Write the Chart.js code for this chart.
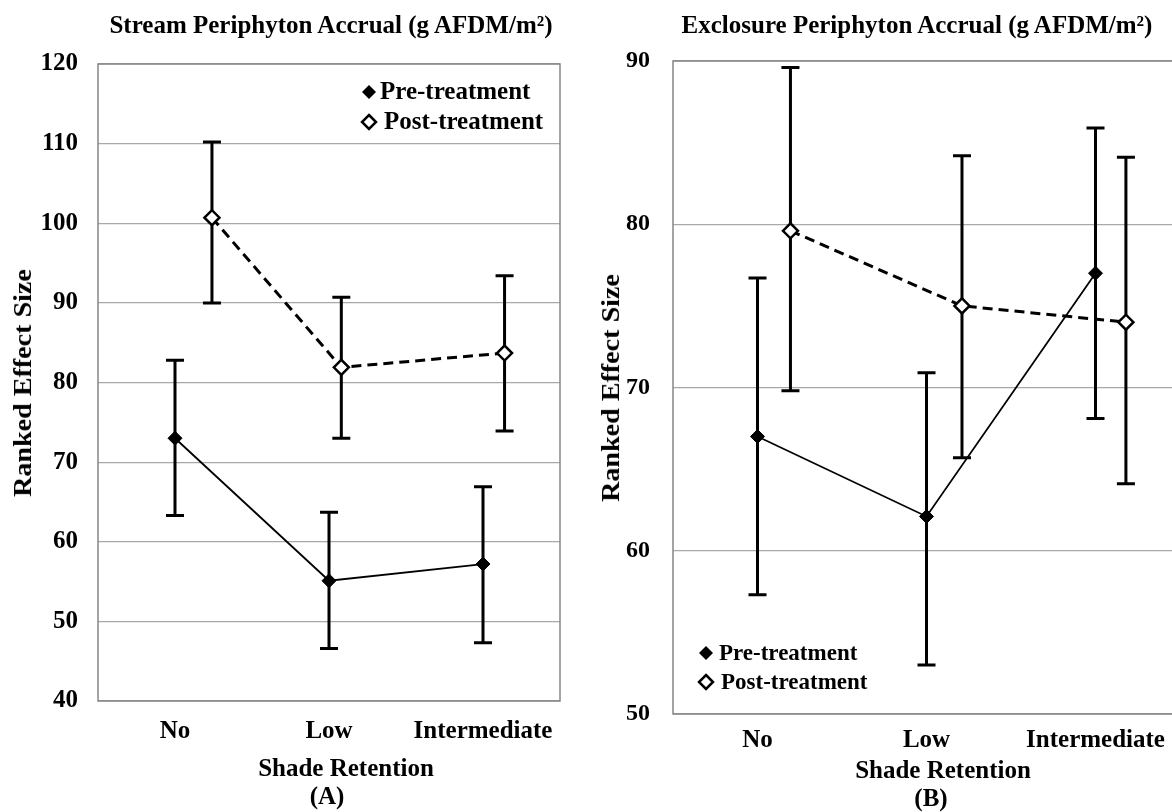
<!DOCTYPE html>
<html>
<head>
<meta charset="utf-8">
<script src="https://cdn.jsdelivr.net/npm/chart.js@4"></script>
<style>
  body { margin: 0; width: 1172px; height: 812px; overflow: hidden; background: #fff; position: relative;
         font-family: "Liberation Serif", "Times New Roman", serif; font-weight: bold; color: #000; }
  .box { position: absolute; top: 0; height: 812px; }
  .lbl { position: absolute; white-space: nowrap; transform: translate(-50%, -50%); }
  .ytl { position: absolute; white-space: nowrap; transform: translate(-50%, -50%) rotate(-90deg) scaleX(1.08); }
</style>
</head>
<body>
<div class="box" style="left:0;width:590px"><canvas id="chartA" width="590" height="812"></canvas></div>
<div class="box" style="left:590px;width:600px"><canvas id="chartB" width="600" height="812"></canvas></div>

<div class="lbl" style="left:331px;top:25px;font-size:25px">Stream Periphyton Accrual (g AFDM/m²)</div>
<div class="lbl" style="left:917px;top:25px;font-size:25px">Exclosure Periphyton Accrual (g AFDM/m²)</div>
<div class="ytl" style="left:23px;top:383px;font-size:26px">Ranked Effect Size</div>
<div class="ytl" style="left:611px;top:388px;font-size:26px">Ranked Effect Size</div>
<div class="lbl" style="left:346px;top:768px;font-size:25px">Shade Retention</div>
<div class="lbl" style="left:327px;top:796px;font-size:25px">(A)</div>
<div class="lbl" style="left:943px;top:770px;font-size:25px">Shade Retention</div>
<div class="lbl" style="left:931px;top:798px;font-size:25px">(B)</div>

<script>
// categories and values
const categories = ['No', 'Low', 'Intermediate'];
const seriesNames = ['Pre-treatment', 'Post-treatment'];

// (A) stream: means with error bar ends
const streamPre = [73.0, 55.1, 57.2];
const streamPreHigh = [82.8, 63.7, 66.9];
const streamPreLow = [63.3, 46.6, 47.3];
const streamPost = [100.7, 81.9, 83.7];
const streamPostHigh = [110.2, 90.7, 93.4];
const streamPostLow = [90.0, 73.0, 73.9];

// (B) exclosure
const exclPre = [67.0, 62.1, 77.0];
const exclPreHigh = [76.7, 70.9, 85.9];
const exclPreLow = [57.3, 53.0, 68.1];
const exclPost = [79.6, 75.0, 74.0];
const exclPostHigh = [89.6, 84.2, 84.1];
const exclPostLow = [69.8, 65.7, 64.1];

const streamTicks = [40, 50, 60, 70, 80, 90, 100, 110, 120];
const exclTicks = [50, 60, 70, 80, 90];

// the post-treatment markers sit a little right of each category
const streamPostShift = [0.24, 0.08, 0.14];
const exclPostShift = [0.195, 0.21, 0.18];

const FONT = '"Liberation Serif", "Times New Roman", serif';

function toPoints(values, low, high, shift) {
  return values.map((v, i) => ({ x: i + (shift ? shift[i] : 0), y: v, lo: low[i], hi: high[i] }));
}

const errorBars = {
  id: 'errorBars',
  beforeDatasetsDraw(chart) {
    const ctx = chart.ctx;
    const yScale = chart.scales.y;
    ctx.save();
    ctx.strokeStyle = '#000';
    ctx.lineWidth = 3;
    chart.data.datasets.forEach((ds, di) => {
      const meta = chart.getDatasetMeta(di);
      meta.data.forEach((pt, i) => {
        const d = ds.data[i];
        const top = yScale.getPixelForValue(d.hi);
        const bot = yScale.getPixelForValue(d.lo);
        ctx.beginPath();
        ctx.moveTo(pt.x, top); ctx.lineTo(pt.x, bot);
        ctx.moveTo(pt.x - 9, top); ctx.lineTo(pt.x + 9, top);
        ctx.moveTo(pt.x - 9, bot); ctx.lineTo(pt.x + 9, bot);
        ctx.stroke();
      });
    });
    ctx.restore();
  }
};

const frame = {
  id: 'frame',
  beforeDatasetsDraw(chart) {
    const a = chart.chartArea;
    const ctx = chart.ctx;
    ctx.save();
    ctx.strokeStyle = '#868686';
    ctx.lineWidth = 1.5;
    ctx.strokeRect(a.left, a.top, a.right - a.left, a.bottom - a.top);
    ctx.restore();
  }
};

function diamond(ctx, x, y, r, filled) {
  ctx.beginPath();
  ctx.moveTo(x, y - r); ctx.lineTo(x + r, y); ctx.lineTo(x, y + r); ctx.lineTo(x - r, y);
  ctx.closePath();
  if (filled) { ctx.fillStyle = '#000'; ctx.fill(); }
  else { ctx.fillStyle = '#fff'; ctx.fill(); ctx.lineWidth = 2.5; ctx.strokeStyle = '#000'; ctx.stroke(); }
}

// legend drawn inside the plot area, like the original
function legendPlugin(pos) {
  return {
    id: 'insideLegend',
    afterDraw(chart) {
      const ctx = chart.ctx;
      ctx.save();
      ctx.font = 'bold ' + pos.size + 'px ' + FONT;
      ctx.textBaseline = 'middle';
      seriesNames.forEach((name, i) => {
        const y = pos.y + i * pos.gap;
        diamond(ctx, pos.x, y, 7, i === 0);
        ctx.fillStyle = '#000';
        ctx.fillText(name, pos.x + pos.textGap[i], y + 1);
      });
      ctx.restore();
    }
  };
}

function makeChart(id, cfg) {
  return new Chart(document.getElementById(id), {
    type: 'line',
    data: {
      datasets: [
        {
          label: seriesNames[0],
          data: toPoints(cfg.pre, cfg.preLow, cfg.preHigh),
          borderColor: '#000', borderWidth: 1.8,
          pointStyle: 'rectRot', pointRadius: 7, pointBackgroundColor: '#000', pointBorderColor: '#000', pointBorderWidth: 1
        },
        {
          label: seriesNames[1],
          data: toPoints(cfg.post, cfg.postLow, cfg.postHigh, cfg.shift),
          borderColor: '#000', borderWidth: 3, borderDash: [10, 6],
          pointStyle: 'rectRot', pointRadius: 7.5, pointBackgroundColor: '#fff', pointBorderColor: '#000', pointBorderWidth: 2.5
        }
      ]
    },
    options: {
      responsive: false,
      animation: false,
      devicePixelRatio: 1,
      layout: { padding: { top: cfg.top, right: cfg.right, left: 0, bottom: 0 } },
      plugins: { legend: { display: false }, tooltip: { enabled: false } },
      scales: {
        x: {
          type: 'linear', min: -0.5, max: 2.5,
          afterBuildTicks: s => { s.ticks = [0, 1, 2].map(v => ({ value: v })); },
          afterFit: s => { s.height = cfg.xHeight; },
          ticks: {
            callback: v => categories[v],
            color: '#000', padding: cfg.xPad, maxRotation: 0, autoSkip: false,
            font: { family: FONT, size: 25, weight: 'bold' }
          },
          grid: { display: false },
          border: { display: false }
        },
        y: {
          min: cfg.ticks[0], max: cfg.ticks[cfg.ticks.length - 1],
          afterBuildTicks: s => { s.ticks = cfg.ticks.map(v => ({ value: v })); },
          afterFit: s => { s.width = cfg.yWidth; },
          ticks: {
            color: '#000', padding: cfg.yPad,
            font: { family: FONT, size: cfg.tickSize, weight: 'bold' }
          },
          grid: { color: '#a8a8a8', lineWidth: 1.2, drawTicks: false },
          border: { display: false }
        }
      }
    },
    plugins: [frame, errorBars, legendPlugin(cfg.legend)]
  });
}

makeChart('chartA', {
  pre: streamPre, preLow: streamPreLow, preHigh: streamPreHigh,
  post: streamPost, postLow: streamPostLow, postHigh: streamPostHigh, shift: streamPostShift,
  ticks: streamTicks, tickSize: 25, top: 64, right: 30, yWidth: 98, xHeight: 111, yPad: 20, xPad: 8,
  legend: { x: 369, y: 92, gap: 30, size: 25, textGap: [11, 15] }
});

makeChart('chartB', {
  pre: exclPre, preLow: exclPreLow, preHigh: exclPreHigh,
  post: exclPost, postLow: exclPostLow, postHigh: exclPostHigh, shift: exclPostShift,
  ticks: exclTicks, tickSize: 24, top: 61, right: 8, yWidth: 83, xHeight: 98, yPad: 23, xPad: 4,
  legend: { x: 116, y: 653, gap: 29, size: 23, textGap: [13, 15] }
});
</script>
</body>
</html>
